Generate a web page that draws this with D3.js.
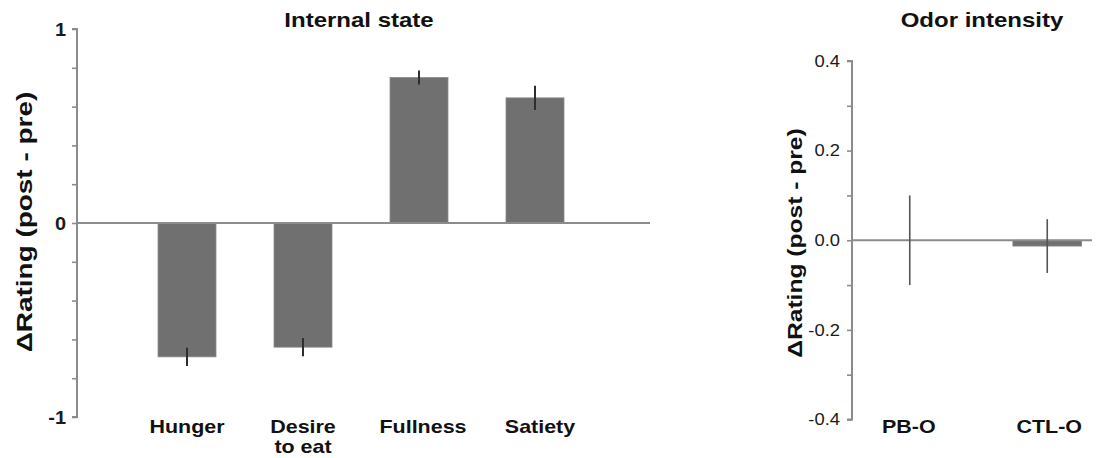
<!DOCTYPE html>
<html><head><meta charset="utf-8">
<script src="https://cdn.jsdelivr.net/npm/d3@7"></script>
<style>
body{margin:0;background:#fff;}
svg{display:block;font-family:"Liberation Sans",Arial,sans-serif;}
</style></head>
<body>
<svg id="c" width="1099" height="458"></svg>
<script>
// Left panel: Internal state
const stateCats = ["Hunger", "Desire\nto eat", "Fullness", "Satiety"];
const stateVals = [-0.69, -0.64, 0.75, 0.645];
const stateErr  = [0.047, 0.047, 0.036, 0.062];
const stateTicks = [-1, -0.8, -0.6, -0.4, -0.2, 0, 0.2, 0.4, 0.6, 0.8, 1];
const stateTickLabels = {"-1": "-1", "0": "0", "1": "1"};

// Right panel: Odor intensity
const odorCats = ["PB-O", "CTL-O"];
const odorVals = [0.0, -0.013];
const odorErr  = [0.1, 0.06];
const odorTicks = [-0.4, -0.3, -0.2, -0.1, 0, 0.1, 0.2, 0.3, 0.4];
const odorTickLabels = {"-0.4": "-0.4", "-0.2": "-0.2", "0": "0.0", "0.2": "0.2", "0.4": "0.4"};

const svg = d3.select("#c");
const axisCol = "#8c8c8c", barCol = "#707070";

function panel(opt) {
  const g = svg.append("g");
  const y = d3.scaleLinear().domain(opt.domain).range(opt.yRange);
  const x = d3.scaleBand().domain(opt.cats).range(opt.xRange).paddingInner(0.5).paddingOuter(0.25);

  // y axis
  const ax = g.append("g").attr("transform", `translate(${opt.axisX},0)`)
    .call(d3.axisLeft(y).tickValues(opt.ticks).tickSize(5).tickPadding(opt.tickPad)
      .tickFormat(d => { const k = String(Math.round(d*10)/10); return opt.labels[k] !== undefined ? opt.labels[k] : ""; }));
  ax.select(".domain").attr("stroke", axisCol).attr("stroke-width", 2).attr("d", `M-5,${y(opt.domain[0])}H0V${y(opt.domain[1])}H-5`);
  ax.selectAll(".tick line").attr("stroke", axisCol).attr("stroke-width", 1.6);
  ax.selectAll(".tick text").attr("fill", "#1a1a1a").style("font-size", opt.tickFont + "px")
    .style("font-weight", opt.tickBold ? "bold" : "normal")
    .each(function() {
      const t = d3.select(this); const x0 = +t.attr("x");
      t.attr("x", 0).attr("transform", `translate(${x0},0) scale(${opt.tickSx},1)`);
    });

  // bars
  g.selectAll("rect.bar").data(opt.vals).enter().append("rect")
    .attr("x", (d, i) => x(opt.cats[i]))
    .attr("width", x.bandwidth())
    .attr("y", d => Math.min(y(d), y(0)))
    .attr("height", d => Math.abs(y(d) - y(0)))
    .attr("fill", barCol).attr("stroke", "#8a8a8a").attr("stroke-width", 0.8);

  // zero line
  g.append("line").attr("x1", opt.axisX).attr("x2", opt.zeroEnd)
    .attr("y1", y(0)).attr("y2", y(0)).attr("stroke", axisCol).attr("stroke-width", 2);

  // error bars
  g.selectAll("line.err").data(opt.vals).enter().append("line")
    .attr("x1", (d, i) => x(opt.cats[i]) + x.bandwidth() / 2)
    .attr("x2", (d, i) => x(opt.cats[i]) + x.bandwidth() / 2)
    .attr("y1", (d, i) => y(d + opt.err[i]))
    .attr("y2", (d, i) => y(d - opt.err[i]))
    .attr("stroke", opt.errCol).attr("stroke-width", opt.errW);

  // category labels
  opt.cats.forEach((c, i) => {
    const cx = x(c) + x.bandwidth() / 2 + (opt.labelShift ? opt.labelShift[i] : 0);
    c.split("\n").forEach((s, j) => {
      g.append("text").attr("transform", `translate(${cx},${opt.labelY + j * 20}) scale(1.16,1)`)
        .attr("text-anchor", "middle").style("font-size", "18.5px").style("font-weight", "bold")
        .attr("fill", "#111").text(s);
    });
  });

  // title
  g.append("text").attr("transform", `translate(${opt.titleX},27) scale(1.2,1)`).attr("text-anchor", "middle")
    .style("font-size", "20px").style("font-weight", "bold").attr("fill", "#111").text(opt.title);

  // y title
  g.append("text").attr("transform", `translate(${opt.yTitleX},${opt.yTitleY}) rotate(-90) scale(${opt.yTitleSx},1)`)
    .attr("text-anchor", "middle").style("font-size", opt.yTitleFont + "px").style("font-weight", "bold")
    .attr("fill", "#111").text("\u0394Rating (post - pre)");
}

panel({
  cats: stateCats, vals: stateVals, err: stateErr, domain: [-1, 1], yRange: [417, 29],
  xRange: [129, 593], axisX: 77, zeroEnd: 650, ticks: stateTicks, labels: stateTickLabels,
  tickFont: 19, tickBold: true, tickSx: 1.05, tickPad: 6, errCol: "#2e2e2e", errW: 2, labelY: 433,
  labelShift: [0, 0, 4, 5],
  title: "Internal state", titleX: 359, yTitleX: 32, yTitleY: 222, yTitleFont: 22, yTitleSx: 1.27
});

panel({
  cats: odorCats, vals: odorVals, err: odorErr, domain: [-0.4, 0.4], yRange: [419.5, 61],
  xRange: [841, 1116], axisX: 852, zeroEnd: 1092, ticks: odorTicks, labels: odorTickLabels,
  tickFont: 16, tickBold: false, tickSx: 1.15, tickPad: 7, errCol: "#555", errW: 1.6, labelY: 433,
  labelShift: [-1, 2],
  title: "Odor intensity", titleX: 982, yTitleX: 802, yTitleY: 243, yTitleFont: 20, yTitleSx: 1.23
});
</script>
</body></html>
